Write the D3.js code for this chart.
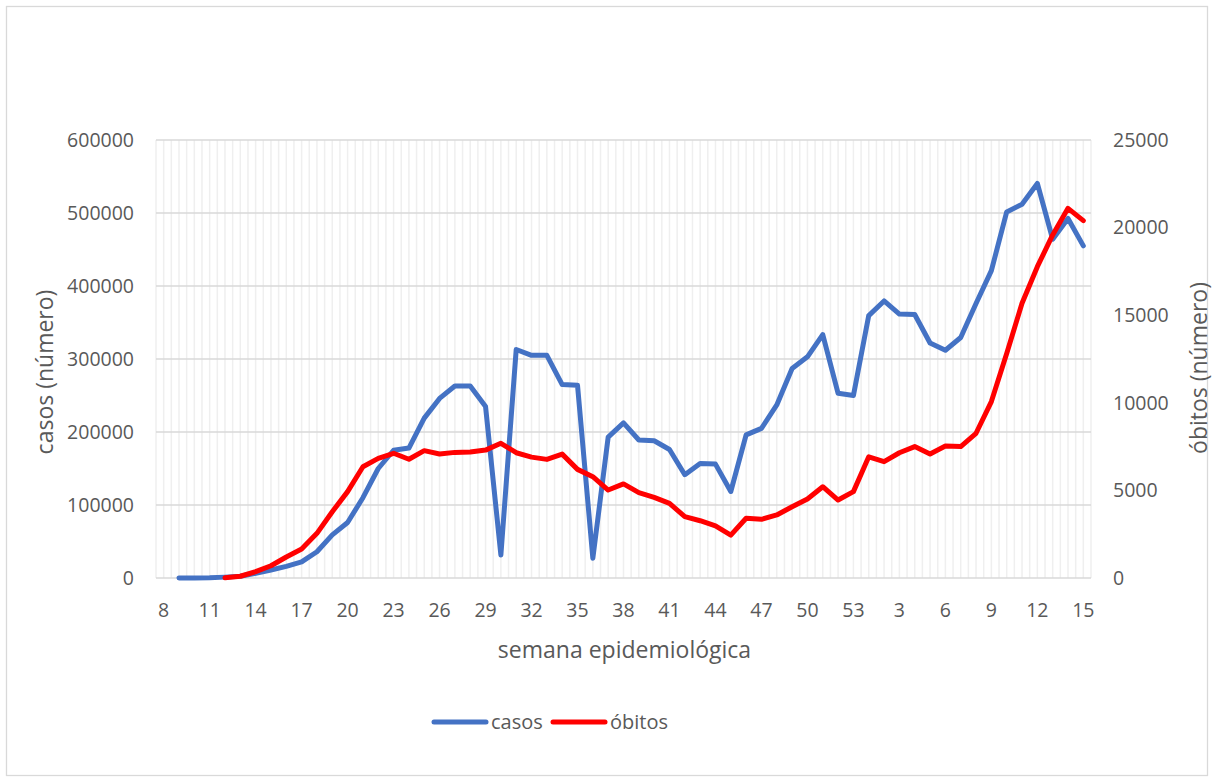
<!DOCTYPE html>
<html>
<head>
<meta charset="utf-8">
<script src="https://cdn.jsdelivr.net/npm/d3@7"></script>
<style>
  body { margin: 0; background: #fff; }
  svg { font-family: "Open Sans", sans-serif; }
</style>
</head>
<body>
<svg id="chart"></svg>
<script>
// semanas epidemiológicas: 2020 (8..53) e 2021 (1..15)
const semanas = [8, 9, 10, 11, 12, 13, 14, 15, 16, 17, 18, 19, 20, 21, 22, 23, 24, 25, 26, 27,
    28, 29, 30, 31, 32, 33, 34, 35, 36, 37, 38, 39, 40, 41, 42, 43, 44, 45, 46, 47,
    48, 49, 50, 51, 52, 53, 1, 2, 3, 4, 5, 6, 7, 8, 9, 10, 11, 12, 13, 14, 15];

const casos = [null, 1, 15, 300, 1200, 2500, 6400, 11000, 16000, 22000, 36000, 59000, 76000,
    110000, 150000, 175000, 178000, 219000, 246000, 263000, 263000, 235000, 31500, 313000,
    305000, 305000, 265000, 264000, 27000, 193000, 212500, 189000, 188000, 176000, 141500,
    157000, 156000, 118500, 196000, 205000, 237000, 287000, 303000, 333500, 253000, 250000,
    359500, 379500, 361500, 361000, 322000, 312000, 329500, 376000, 421000, 501500, 512000,
    540500, 464000, 492500, 455000];

const obitos = [null, null, null, null, 10, 100, 360, 700, 1200, 1650, 2550, 3780, 4930,
    6350, 6830, 7120, 6780, 7270, 7080, 7170, 7190, 7300, 7690, 7150, 6900, 6770, 7070,
    6200, 5780, 5020, 5370, 4870, 4600, 4260, 3500, 3270, 2970, 2450, 3410, 3350, 3600,
    4070, 4510, 5210, 4450, 4930, 6920, 6640, 7150, 7500, 7080, 7530, 7500, 8260, 10070,
    12820, 15680, 17770, 19580, 21100, 20400];

const ticksCasos = [0, 100000, 200000, 300000, 400000, 500000, 600000];
const ticksObitos = [0, 5000, 10000, 15000, 20000, 25000];

const width = 1213, height = 780;
const margin = {top: 140, right: 122, bottom: 202, left: 156};
const innerW = width - margin.left - margin.right;
const innerH = height - margin.top - margin.bottom;
const textColor = '#595959';

const svg = d3.select('#chart')
    .attr('width', width)
    .attr('height', height);

// borda do gráfico
svg.append('rect')
    .attr('x', 6.5).attr('y', 6.5)
    .attr('width', width - 12).attr('height', height - 11)
    .attr('fill', '#fff')
    .attr('stroke', '#d9d9d9')
    .attr('stroke-width', 1.3);

const chart = svg.append('g')
    .attr('transform', `translate(${margin.left}, ${margin.top})`);

const idx = d3.range(semanas.length);

const xscale = d3.scaleBand()
    .domain(idx)
    .range([0, innerW]);

const yleft = d3.scaleLinear()
    .domain([0, 600000])
    .range([innerH, 0]);

const yright = d3.scaleLinear()
    .domain([0, 25000])
    .range([innerH, 0]);

const bw = xscale.bandwidth();

// grade vertical (a cada meia semana)
const vlines = d3.range(0, semanas.length * 2 + 1);
chart.append('g').selectAll('line')
    .data(vlines)
    .join('line')
    .attr('x1', d => d * bw / 2)
    .attr('x2', d => d * bw / 2)
    .attr('y1', 0)
    .attr('y2', innerH)
    .attr('stroke', '#efefef')
    .attr('stroke-width', 1.5);

// grade horizontal
chart.append('g').selectAll('line')
    .data(ticksCasos)
    .join('line')
    .attr('x1', 0)
    .attr('x2', innerW)
    .attr('y1', d => yleft(d))
    .attr('y2', d => yleft(d))
    .attr('stroke', '#d9d9d9')
    .attr('stroke-width', 1.5);

// eixos
const xaxis = d3.axisBottom(xscale)
    .tickValues(idx.filter(i => i % 3 === 0))
    .tickFormat(i => semanas[i])
    .tickSize(0)
    .tickPadding(25);

const yaxisL = d3.axisLeft(yleft)
    .tickValues(ticksCasos)
    .tickFormat(d3.format('d'))
    .tickSize(0)
    .tickPadding(22);

const yaxisR = d3.axisRight(yright)
    .tickValues(ticksObitos)
    .tickFormat(d3.format('d'))
    .tickSize(0)
    .tickPadding(22);

const styleAxis = g => {
    g.select('.domain').remove();
    g.selectAll('text')
        .attr('fill', textColor)
        .style('font-size', '19.5px')
        .style('font-family', '"Open Sans", sans-serif');
};

chart.append('g')
    .attr('transform', `translate(0, ${innerH})`)
    .call(xaxis)
    .call(styleAxis);

chart.append('g')
    .call(yaxisL)
    .call(styleAxis);

chart.append('g')
    .attr('transform', `translate(${innerW}, 0)`)
    .call(yaxisR)
    .call(styleAxis);

// títulos dos eixos
chart.append('text')
    .attr('x', innerW / 2 + 1)
    .attr('y', innerH + 80)
    .attr('text-anchor', 'middle')
    .attr('fill', textColor)
    .style('font-size', '23px')
    .text('semana epidemiológica');

svg.append('text')
    .attr('transform', `translate(53, 372) rotate(-90)`)
    .attr('text-anchor', 'middle')
    .attr('fill', textColor)
    .style('font-size', '23px')
    .text('casos (número)');

svg.append('text')
    .attr('transform', `translate(1207, 368) rotate(-90)`)
    .attr('text-anchor', 'middle')
    .attr('fill', textColor)
    .style('font-size', '23px')
    .text('óbitos (número)');

// linhas
const cx = i => xscale(i) + bw / 2;

const lineCasos = d3.line()
    .defined(i => casos[i] != null)
    .x(cx)
    .y(i => yleft(casos[i]));

const lineObitos = d3.line()
    .defined(i => obitos[i] != null)
    .x(cx)
    .y(i => yright(obitos[i]));

chart.append('path')
    .attr('d', lineCasos(idx))
    .attr('fill', 'none')
    .attr('stroke', '#4472c4')
    .attr('stroke-width', 5)
    .attr('stroke-linejoin', 'round')
    .attr('stroke-linecap', 'round');

chart.append('path')
    .attr('d', lineObitos(idx))
    .attr('fill', 'none')
    .attr('stroke', '#ff0000')
    .attr('stroke-width', 5)
    .attr('stroke-linejoin', 'round')
    .attr('stroke-linecap', 'round');

// legenda
const legend = svg.append('g')
    .attr('transform', 'translate(0, 722)');

const items = [
    {name: 'casos', color: '#4472c4', x: 434},
    {name: 'óbitos', color: '#ff0000', x: 553}
];

items.forEach(it => {
    legend.append('line')
        .attr('x1', it.x).attr('x2', it.x + 52)
        .attr('y1', 0).attr('y2', 0)
        .attr('stroke', it.color)
        .attr('stroke-width', 5)
        .attr('stroke-linecap', 'round');
    legend.append('text')
        .attr('x', it.x + 57)
        .attr('y', 0)
        .attr('dy', '0.35em')
        .attr('fill', textColor)
        .style('font-size', '20px')
        .text(it.name);
});
</script>
</body>
</html>
